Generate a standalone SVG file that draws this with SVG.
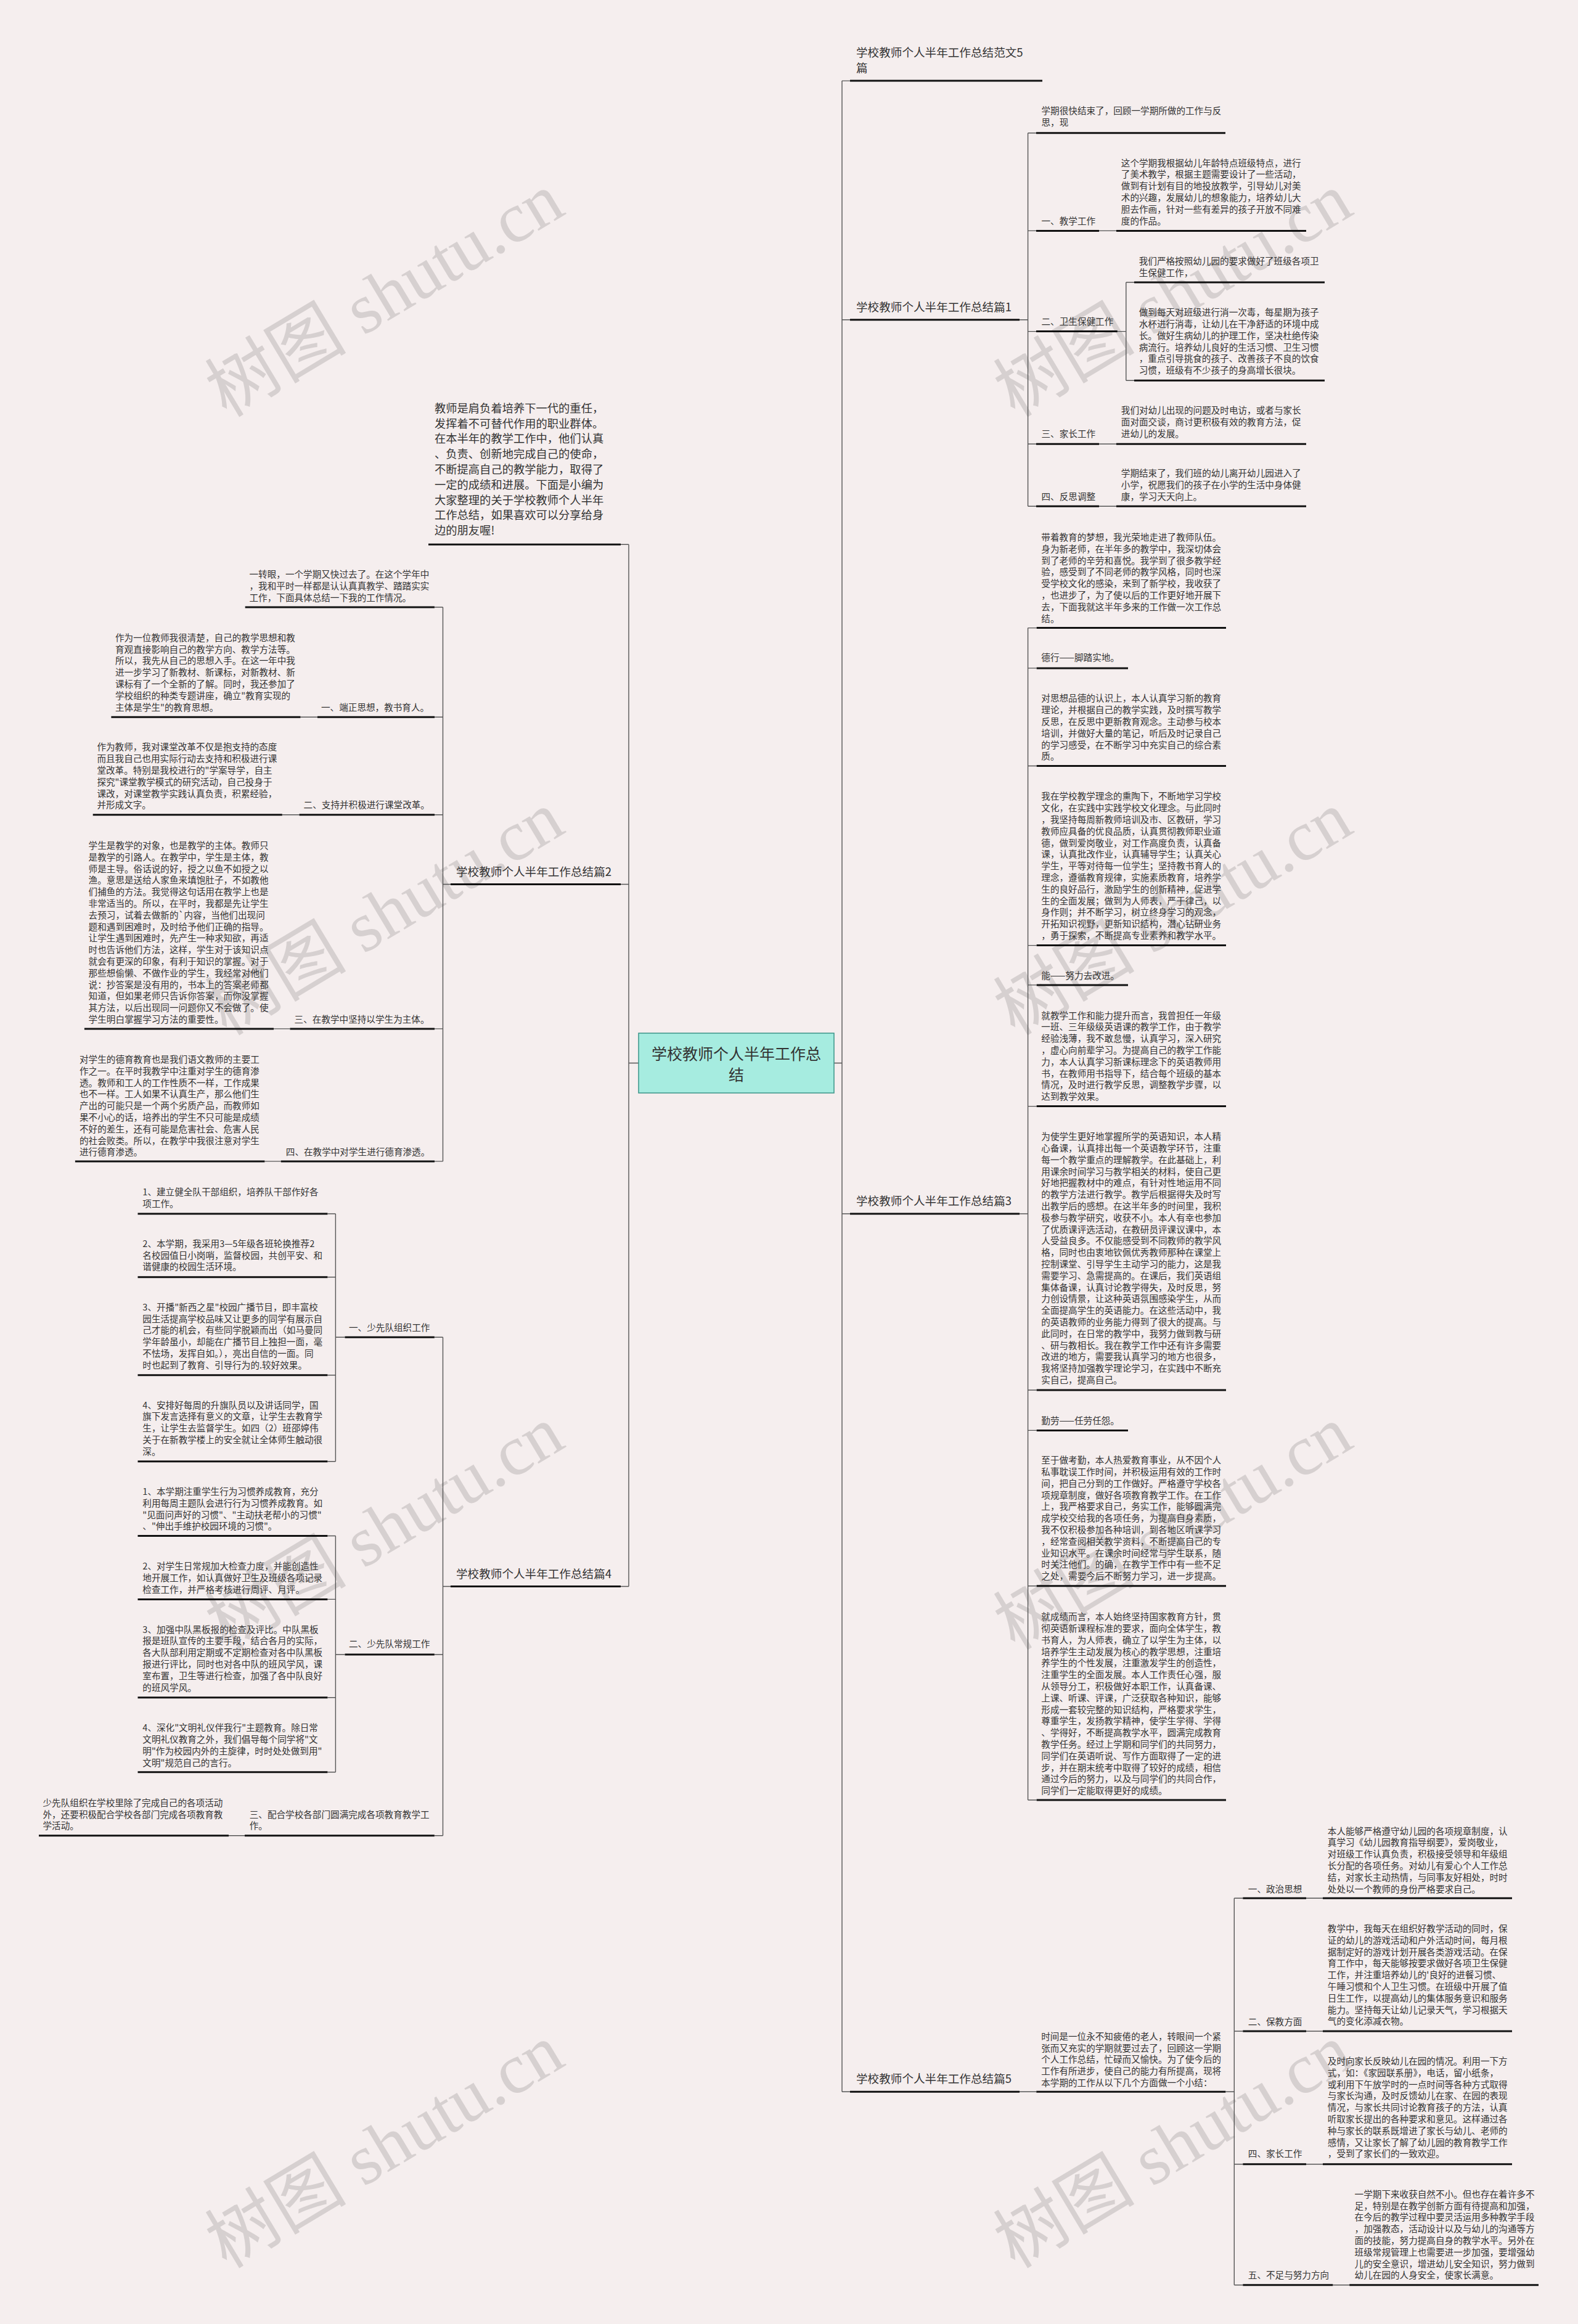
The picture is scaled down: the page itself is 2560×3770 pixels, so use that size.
<svg xmlns="http://www.w3.org/2000/svg" width="2560" height="3770" viewBox="0 0 2560 3770">
<style>
.t{font-family:"Noto Sans CJK SC","Liberation Sans",sans-serif;font-size:14.6px;fill:#333}
.m{font-family:"Noto Sans CJK SC","Liberation Sans",sans-serif;font-size:18.6px;fill:#333}
.i{font-family:"Noto Sans CJK SC","Liberation Sans",sans-serif;font-size:18.3px;fill:#333}
.ul{stroke:#111;stroke-width:3;fill:none}
.ln{stroke:#555;stroke-width:1.4;fill:none}
.wm{font-family:"Liberation Serif","Noto Sans CJK SC",serif;font-size:115px;fill:#8a8484;opacity:0.28}
</style>
<rect x="0" y="0" width="2560" height="3770" fill="#f5eeee"/>

<g id="watermarks">
<text class="wm" text-anchor="middle" transform="translate(644,512) rotate(-31)">树图 shutu.cn</text>
<text class="wm" text-anchor="middle" transform="translate(1923,512) rotate(-31)">树图 shutu.cn</text>
<text class="wm" text-anchor="middle" transform="translate(644,1515) rotate(-31)">树图 shutu.cn</text>
<text class="wm" text-anchor="middle" transform="translate(1923,1515) rotate(-31)">树图 shutu.cn</text>
<text class="wm" text-anchor="middle" transform="translate(644,2512) rotate(-31)">树图 shutu.cn</text>
<text class="wm" text-anchor="middle" transform="translate(1923,2512) rotate(-31)">树图 shutu.cn</text>
<text class="wm" text-anchor="middle" transform="translate(644,3515) rotate(-31)">树图 shutu.cn</text>
<text class="wm" text-anchor="middle" transform="translate(1923,3515) rotate(-31)">树图 shutu.cn</text>
</g>

<g id="connectors">
<path class="ln" d="M1366 131.1V3393.3M1353 1724.5H1366M1036 1724.5H1020M1020 883.3V2573.5"/>
<path class="ln" d="M1366 131.1H1379M1366 518.7H1379M1366 1969H1379M1366 3393.3H1379M1020 883.3H1007M1020 1434.5H1007M1020 2573.5H1007"/>
<path class="ln" d="M1654 518.7H1667.6M1667.6 215.7V821.2M1667.6 215.7H1681M1667.6 374.4H1681M1667.6 537.6H1681M1667.6 720.2H1681M1667.6 821.2H1681M1783 374.4H1811M1783 720.2H1811M1783 821.2H1811M1812.8 537.6H1826.8M1826.8 458V617.2M1826.8 458H1840M1826.8 617.2H1840"/>
<path class="ln" d="M1654 1969H1667.6M1667.6 1018.6V2920M1667.6 1018.6H1681.7M1667.6 1083.9H1681.7M1667.6 1242.5H1681.7M1667.6 1533.6H1681.7M1667.6 1597.9H1681.7M1667.6 1794.6H1681.7M1667.6 2255H1681.7M1667.6 2320.4H1681.7M1667.6 2572.7H1681.7M1667.6 2920H1681.7"/>
<path class="ln" d="M1654 3393.3H1681.3M1988.3 3393.3H2002.3M2002.3 3079.3V3706.7M2002.3 3079.3H2016.3M2002.3 3295H2016.3M2002.3 3510.7H2016.3M2002.3 3706.7H2016.3M2119 3079.3H2146M2119 3295H2146M2119 3510.7H2146M2162.3 3706.7H2189.2"/>
<path class="ln" d="M731 1434.5H718.5M718.5 985V1883.9M718.5 985H704.9M718.5 1163.3H705M718.5 1321.7H705M718.5 1668.9H705M718.5 1883.9H705M515 1163.3H487.5M485.5 1321.7H457.8M470.5 1668.9H444M455.8 1883.9H429.4"/>
<path class="ln" d="M731 2573.5H718.5M718.5 2169.3V2977.8M718.5 2169.3H704.8M718.5 2684H704.8M718.5 2977.8H704.8M559.5 2169.3H544.4M544.4 1969V2370.7M544.4 1969H531.4M544.4 2071.7H531.4M544.4 2230.7H531.4M544.4 2370.7H531.4M559.5 2684H544.4M544.4 2491.5V2874.8M544.4 2491.5H531.4M544.4 2594.4H531.4M544.4 2753.7H531.4M544.4 2874.8H531.4M397 2977.8H371"/>
</g>

<g id="center">
<rect x="1036" y="1676" width="317" height="97" fill="#a6ece0" stroke="#3a9488" stroke-width="1.5"/>
<text class="m" style="font-size:25px" text-anchor="middle" x="1194.5" y="1718.5">学校教师个人半年工作总</text>
<text class="m" style="font-size:25px" text-anchor="middle" x="1194.5" y="1752.5">结</text>
</g>

<!-- RIGHT: title 5 -->
<g id="n-title5">
<text class="m" x="1389" y="91.9"><tspan x="1389">学校教师个人半年工作总结范文5</tspan><tspan x="1389" dy="24.9">篇</tspan></text>
<path class="ul" d="M1379 131.1H1691"/>
</g>

<!-- Section 1 -->
<g id="n-p1">
<text class="m" x="1389" y="504.8">学校教师个人半年工作总结篇1</text>
<path class="ul" d="M1379 518.7H1654"/>
</g>
<g id="n-p1-a">
<text class="t" x="1689.5" y="184.9"><tspan x="1689.5">学期很快结束了，回顾一学期所做的工作与反</tspan><tspan x="1689.5" dy="18.9">思，现</tspan></text>
<path class="ul" d="M1681 215.7H1988"/>
</g>
<g id="n-p1-1">
<text class="t" x="1689.5" y="364">一、教学工作</text>
<path class="ul" d="M1681 374.4H1783"/>
</g>
<g id="n-p1-1t">
<text class="t" x="1818.8" y="269.5"><tspan x="1818.8">这个学期我根据幼儿年龄特点班级特点，进行</tspan><tspan x="1818.8" dy="18.9">了美术教学，根据主题需要设计了一些活动，</tspan><tspan x="1818.8" dy="18.9">做到有计划有目的地投放教学，引导幼儿对美</tspan><tspan x="1818.8" dy="18.9">术的兴趣，发展幼儿的想象能力，培养幼儿大</tspan><tspan x="1818.8" dy="18.9">胆去作画，针对一些有差异的孩子开放不同难</tspan><tspan x="1818.8" dy="18.9">度的作品。</tspan></text>
<path class="ul" d="M1811 374.4H2119"/>
</g>
<g id="n-p1-2">
<text class="t" x="1689.5" y="526.7">二、卫生保健工作</text>
<path class="ul" d="M1681 537.6H1812.8"/>
</g>
<g id="n-p1-2a">
<text class="t" x="1847.7" y="428.7"><tspan x="1847.7">我们严格按照幼儿园的要求做好了班级各项卫</tspan><tspan x="1847.7" dy="18.9">生保健工作，</tspan></text>
<path class="ul" d="M1840 458H2149"/>
</g>
<g id="n-p1-2b">
<text class="t" x="1847.7" y="511.8"><tspan x="1847.7">做到每天对班级进行消一次毒，每星期为孩子</tspan><tspan x="1847.7" dy="18.9">水杯进行消毒，让幼儿在干净舒适的环境中成</tspan><tspan x="1847.7" dy="18.9">长。做好生病幼儿的护理工作，坚决杜绝传染</tspan><tspan x="1847.7" dy="18.9">病流行。培养幼儿良好的生活习惯、卫生习惯</tspan><tspan x="1847.7" dy="18.9">，重点引导挑食的孩子、改善孩子不良的饮食</tspan><tspan x="1847.7" dy="18.9">习惯，班级有不少孩子的身高增长很块。</tspan></text>
<path class="ul" d="M1840 617.2H2149"/>
</g>
<g id="n-p1-3">
<text class="t" x="1689.5" y="708.8">三、家长工作</text>
<path class="ul" d="M1681 720.2H1783"/>
</g>
<g id="n-p1-3t">
<text class="t" x="1818.8" y="671"><tspan x="1818.8">我们对幼儿出现的问题及时电访，或者与家长</tspan><tspan x="1818.8" dy="18.9">面对面交谈，商讨更积极有效的教育方法，促</tspan><tspan x="1818.8" dy="18.9">进幼儿的发展。</tspan></text>
<path class="ul" d="M1811 720.2H2119"/>
</g>
<g id="n-p1-4">
<text class="t" x="1689.5" y="811">四、反思调整</text>
<path class="ul" d="M1681 821.2H1783"/>
</g>
<g id="n-p1-4t">
<text class="t" x="1818.8" y="773"><tspan x="1818.8">学期结束了，我们班的幼儿离开幼儿园进入了</tspan><tspan x="1818.8" dy="18.9">小学，祝愿我们的孩子在小学的生活中身体健</tspan><tspan x="1818.8" dy="18.9">康，学习天天向上。</tspan></text>
<path class="ul" d="M1811 821.2H2119"/>
</g>

<!-- Section 3 -->
<g id="n-p3">
<text class="m" x="1389" y="1955">学校教师个人半年工作总结篇3</text>
<path class="ul" d="M1379 1969H1654"/>
</g>
<g id="n-p3-a">
<text class="t" x="1689.3" y="876.9"><tspan x="1689.3">带着教育的梦想，我光荣地走进了教师队伍。</tspan><tspan x="1689.3" dy="18.8">身为新老师，在半年多的教学中，我深切体会</tspan><tspan x="1689.3" dy="18.8">到了老师的辛劳和喜悦。我学到了很多教学经</tspan><tspan x="1689.3" dy="18.8">验，感受到了不同老师的教学风格，同时也深</tspan><tspan x="1689.3" dy="18.8">受学校文化的感染，来到了新学校，我收获了</tspan><tspan x="1689.3" dy="18.8">，也进步了，为了使以后的工作更好地开展下</tspan><tspan x="1689.3" dy="18.8">去，下面我就这半年多来的工作做一次工作总</tspan><tspan x="1689.3" dy="18.8">结。</tspan></text>
<path class="ul" d="M1681.7 1018.6H1989"/>
</g>
<g id="n-p3-b">
<text class="t" x="1689.3" y="1072.3">德行——脚踏实地。</text>
<path class="ul" d="M1681.7 1083.9H1830"/>
</g>
<g id="n-p3-c">
<text class="t" x="1689.3" y="1138.4"><tspan x="1689.3">对思想品德的认识上，本人认真学习新的教育</tspan><tspan x="1689.3" dy="18.8">理论，并根据自己的教学实践，及时撰写教学</tspan><tspan x="1689.3" dy="18.8">反思，在反思中更新教育观念。主动参与校本</tspan><tspan x="1689.3" dy="18.8">培训，并做好大量的笔记，听后及时记录自己</tspan><tspan x="1689.3" dy="18.8">的学习感受，在不断学习中充实自己的综合素</tspan><tspan x="1689.3" dy="18.8">质。</tspan></text>
<path class="ul" d="M1681.7 1242.5H1989"/>
</g>
<g id="n-p3-d">
<text class="t" x="1689.3" y="1297.3"><tspan x="1689.3">我在学校教学理念的熏陶下，不断地学习学校</tspan><tspan x="1689.3" dy="18.8">文化，在实践中实践学校文化理念。与此同时</tspan><tspan x="1689.3" dy="18.8">，我坚持每周新教师培训及市、区教研，学习</tspan><tspan x="1689.3" dy="18.8">教师应具备的优良品质，认真贯彻教师职业道</tspan><tspan x="1689.3" dy="18.8">德，做到爱岗敬业，对工作高度负责，认真备</tspan><tspan x="1689.3" dy="18.8">课，认真批改作业，认真辅导学生；认真关心</tspan><tspan x="1689.3" dy="18.8">学生，平等对待每一位学生；坚持教书育人的</tspan><tspan x="1689.3" dy="18.8">理念，遵循教育规律，实施素质教育，培养学</tspan><tspan x="1689.3" dy="18.8">生的良好品行，激励学生的创新精神，促进学</tspan><tspan x="1689.3" dy="18.8">生的全面发展；做到为人师表，严于律己，以</tspan><tspan x="1689.3" dy="18.8">身作则；并不断学习，树立终身学习的观念，</tspan><tspan x="1689.3" dy="18.8">开拓知识视野，更新知识结构，潜心钻研业务</tspan><tspan x="1689.3" dy="18.8">，勇于探索，不断提高专业素养和教学水平。</tspan></text>
<path class="ul" d="M1681.7 1533.6H1989"/>
</g>
<g id="n-p3-e">
<text class="t" x="1689.3" y="1588.4">能——努力去改进。</text>
<path class="ul" d="M1681.7 1597.9H1830"/>
</g>
<g id="n-p3-f">
<text class="t" x="1689.3" y="1652.6"><tspan x="1689.3">就教学工作和能力提升而言，我曾担任一年级</tspan><tspan x="1689.3" dy="18.8">一班、三年级级英语课的教学工作，由于教学</tspan><tspan x="1689.3" dy="18.8">经验浅薄，我不敢怠慢，认真学习，深入研究</tspan><tspan x="1689.3" dy="18.8">，虚心向前辈学习。为提高自己的教学工作能</tspan><tspan x="1689.3" dy="18.8">力，本人认真学习新课标理念下的英语教师用</tspan><tspan x="1689.3" dy="18.8">书，在教师用书指导下，结合每个班级的基本</tspan><tspan x="1689.3" dy="18.8">情况，及时进行教学反思，调整教学步骤，以</tspan><tspan x="1689.3" dy="18.8">达到教学效果。</tspan></text>
<path class="ul" d="M1681.7 1794.6H1989"/>
</g>
<g id="n-p3-g">
<text class="t" x="1689.3" y="1849.1"><tspan x="1689.3">为使学生更好地掌握所学的英语知识，本人精</tspan><tspan x="1689.3" dy="18.8">心备课，认真排出每一个英语教学环节，注重</tspan><tspan x="1689.3" dy="18.8">每一个教学重点的理解教学。在此基础上，利</tspan><tspan x="1689.3" dy="18.8">用课余时间学习与教学相关的材料，使自己更</tspan><tspan x="1689.3" dy="18.8">好地把握教材中的难点，有针对性地运用不同</tspan><tspan x="1689.3" dy="18.8">的教学方法进行教学。教学后根据得失及时写</tspan><tspan x="1689.3" dy="18.8">出教学后的感想。在这半年多的时间里，我积</tspan><tspan x="1689.3" dy="18.8">极参与教学研究，收获不小。本人有幸也参加</tspan><tspan x="1689.3" dy="18.8">了优质课评选活动，在教研员评课议课中，本</tspan><tspan x="1689.3" dy="18.8">人受益良多。不仅能感受到不同教师的教学风</tspan><tspan x="1689.3" dy="18.8">格，同时也由衷地钦佩优秀教师那种在课堂上</tspan><tspan x="1689.3" dy="18.8">控制课堂、引导学生主动学习的能力，这是我</tspan><tspan x="1689.3" dy="18.8">需要学习、急需提高的。在课后，我们英语组</tspan><tspan x="1689.3" dy="18.8">集体备课，认真讨论教学得失，及时反思，努</tspan><tspan x="1689.3" dy="18.8">力创设情景，让这种英语氛围感染学生，从而</tspan><tspan x="1689.3" dy="18.8">全面提高学生的英语能力。在这些活动中，我</tspan><tspan x="1689.3" dy="18.8">的英语教师的业务能力得到了很大的提高。与</tspan><tspan x="1689.3" dy="18.8">此同时，在日常的教学中，我努力做到教与研</tspan><tspan x="1689.3" dy="18.8">、研与教相长。我在教学工作中还有许多需要</tspan><tspan x="1689.3" dy="18.8">改进的地方，需要我认真学习的地方也很多，</tspan><tspan x="1689.3" dy="18.8">我将坚持加强教学理论学习，在实践中不断充</tspan><tspan x="1689.3" dy="18.8">实自己，提高自己。</tspan></text>
<path class="ul" d="M1681.7 2255H1989"/>
</g>
<g id="n-p3-h">
<text class="t" x="1689.3" y="2309.8">勤劳——任劳任怨。</text>
<path class="ul" d="M1681.7 2320.4H1830"/>
</g>
<g id="n-p3-i">
<text class="t" x="1689.3" y="2374.1"><tspan x="1689.3">至于做考勤，本人热爱教育事业，从不因个人</tspan><tspan x="1689.3" dy="18.8">私事耽误工作时间，并积极运用有效的工作时</tspan><tspan x="1689.3" dy="18.8">间，把自己分到的工作做好。严格遵守学校各</tspan><tspan x="1689.3" dy="18.8">项规章制度，做好各项教育教学工作。在工作</tspan><tspan x="1689.3" dy="18.8">上，我严格要求自己，务实工作，能够圆满完</tspan><tspan x="1689.3" dy="18.8">成学校交给我的各项任务，为提高自身素质，</tspan><tspan x="1689.3" dy="18.8">我不仅积极参加各种培训，到各地区听课学习</tspan><tspan x="1689.3" dy="18.8">，经常查阅相关教学资料，不断提高自己的专</tspan><tspan x="1689.3" dy="18.8">业知识水平。在课余时间经常与学生联系，随</tspan><tspan x="1689.3" dy="18.8">时关注他们。的确，在教学工作中有一些不足</tspan><tspan x="1689.3" dy="18.8">之处，需要今后不断努力学习，进一步提高。</tspan></text>
<path class="ul" d="M1681.7 2572.7H1989"/>
</g>
<g id="n-p3-j">
<text class="t" x="1689.3" y="2628.2"><tspan x="1689.3">就成绩而言，本人始终坚持国家教育方针，贯</tspan><tspan x="1689.3" dy="18.8">彻英语新课程标准的要求，面向全体学生，教</tspan><tspan x="1689.3" dy="18.8">书育人，为人师表，确立了以学生为主体，以</tspan><tspan x="1689.3" dy="18.8">培养学生主动发展为核心的教学思想，注重培</tspan><tspan x="1689.3" dy="18.8">养学生的个性发展，注重激发学生的创造性，</tspan><tspan x="1689.3" dy="18.8">注重学生的全面发展。本人工作责任心强，服</tspan><tspan x="1689.3" dy="18.8">从领导分工，积极做好本职工作，认真备课、</tspan><tspan x="1689.3" dy="18.8">上课、听课、评课，广泛获取各种知识，能够</tspan><tspan x="1689.3" dy="18.8">形成一套较完整的知识结构，严格要求学生，</tspan><tspan x="1689.3" dy="18.8">尊重学生，发扬教学精神，使学生学得、学得</tspan><tspan x="1689.3" dy="18.8">、学得好，不断提高教学水平，圆满完成教育</tspan><tspan x="1689.3" dy="18.8">教学任务。经过上学期和同学们的共同努力，</tspan><tspan x="1689.3" dy="18.8">同学们在英语听说、写作方面取得了一定的进</tspan><tspan x="1689.3" dy="18.8">步，并在期末统考中取得了较好的成绩，相信</tspan><tspan x="1689.3" dy="18.8">通过今后的努力，以及与同学们的共同合作，</tspan><tspan x="1689.3" dy="18.8">同学们一定能取得更好的成绩。</tspan></text>
<path class="ul" d="M1681.7 2920H1989"/>
</g>

<!-- Section 5 -->
<g id="n-p5">
<text class="m" x="1389" y="3379.4">学校教师个人半年工作总结篇5</text>
<path class="ul" d="M1379 3393.3H1654"/>
</g>
<g id="n-p5-a">
<text class="t" x="1689.2" y="3308.8"><tspan x="1689.2">时间是一位永不知疲倦的老人，转眼间一个紧</tspan><tspan x="1689.2" dy="18.7">张而又充实的学期就要过去了，回顾这一学期</tspan><tspan x="1689.2" dy="18.7">个人工作总结，忙碌而又愉快。为了使今后的</tspan><tspan x="1689.2" dy="18.7">工作有所进步，使自己的能力有所提高，现将</tspan><tspan x="1689.2" dy="18.7">本学期的工作从以下几个方面做一个小结：</tspan></text>
<path class="ul" d="M1681.3 3393.3H1988.3"/>
</g>
<g id="n-p5-1">
<text class="t" x="2024.8" y="3069.5">一、政治思想</text>
<path class="ul" d="M2016.3 3079.3H2119"/>
</g>
<g id="n-p5-1t">
<text class="t" x="2153.8" y="2975.5"><tspan x="2153.8">本人能够严格遵守幼儿园的各项规章制度，认</tspan><tspan x="2153.8" dy="18.8">真学习《幼儿园教育指导纲要》，爱岗敬业，</tspan><tspan x="2153.8" dy="18.8">对班级工作认真负责，积极接受领导和年级组</tspan><tspan x="2153.8" dy="18.8">长分配的各项任务。对幼儿有爱心个人工作总</tspan><tspan x="2153.8" dy="18.8">结，对家长主动热情，与同事友好相处，时时</tspan><tspan x="2153.8" dy="18.8">处处以一个教师的身份严格要求自己。</tspan></text>
<path class="ul" d="M2146 3079.3H2453"/>
</g>
<g id="n-p5-2">
<text class="t" x="2024.8" y="3284.6">二、保教方面</text>
<path class="ul" d="M2016.3 3295H2119"/>
</g>
<g id="n-p5-2t">
<text class="t" x="2153.8" y="3134"><tspan x="2153.8">教学中，我每天在组织好教学活动的同时，保</tspan><tspan x="2153.8" dy="18.8">证的幼儿的游戏活动和户外活动时间，每月根</tspan><tspan x="2153.8" dy="18.8">据制定好的游戏计划开展各类游戏活动。在保</tspan><tspan x="2153.8" dy="18.8">育工作中，每天能够按要求做好各项卫生保健</tspan><tspan x="2153.8" dy="18.8">工作，并注重培养幼儿的'良好的进餐习惯、</tspan><tspan x="2153.8" dy="18.8">午睡习惯和个人卫生习惯。在班级中开展了值</tspan><tspan x="2153.8" dy="18.8">日生工作，以提高幼儿的集体服务意识和服务</tspan><tspan x="2153.8" dy="18.8">能力。坚持每天让幼儿记录天气，学习根据天</tspan><tspan x="2153.8" dy="18.8">气的变化添减衣物。</tspan></text>
<path class="ul" d="M2146 3295H2453"/>
</g>
<g id="n-p5-4">
<text class="t" x="2024.8" y="3499.4">四、家长工作</text>
<path class="ul" d="M2016.3 3510.7H2119"/>
</g>
<g id="n-p5-4t">
<text class="t" x="2153.8" y="3349"><tspan x="2153.8">及时向家长反映幼儿在园的情况。利用一下方</tspan><tspan x="2153.8" dy="18.8">式，如：《家园联系册》，电话，留小纸条，</tspan><tspan x="2153.8" dy="18.8">或利用下午放学时的一点时间等各种方式取得</tspan><tspan x="2153.8" dy="18.8">与家长沟通，及时反馈幼儿在家、在园的表现</tspan><tspan x="2153.8" dy="18.8">情况，与家长共同讨论教育孩子的方法，认真</tspan><tspan x="2153.8" dy="18.8">听取家长提出的各种要求和意见。这样通过各</tspan><tspan x="2153.8" dy="18.8">种与家长的联系既增进了家长与幼儿、老师的</tspan><tspan x="2153.8" dy="18.8">感情，又让家长了解了幼儿园的教育教学工作</tspan><tspan x="2153.8" dy="18.8">，受到了家长们的一致欢迎。</tspan></text>
<path class="ul" d="M2146 3510.7H2453"/>
</g>
<g id="n-p5-5">
<text class="t" x="2024.8" y="3696.4">五、不足与努力方向</text>
<path class="ul" d="M2016.3 3706.7H2162.3"/>
</g>
<g id="n-p5-5t">
<text class="t" x="2197.6" y="3564.8"><tspan x="2197.6">一学期下来收获自然不小。但也存在着许多不</tspan><tspan x="2197.6" dy="18.8">足，特别是在教学创新方面有待提高和加强，</tspan><tspan x="2197.6" dy="18.8">在今后的教学过程中要灵活运用多种教学手段</tspan><tspan x="2197.6" dy="18.8">，加强教态，活动设计以及与幼儿的沟通等方</tspan><tspan x="2197.6" dy="18.8">面的技能，努力提高自身的教学水平。另外在</tspan><tspan x="2197.6" dy="18.8">班级常规管理上也需要进一步加强，要增强幼</tspan><tspan x="2197.6" dy="18.8">儿的安全意识，增进幼儿安全知识，努力做到</tspan><tspan x="2197.6" dy="18.8">幼儿在园的人身安全，使家长满意。</tspan></text>
<path class="ul" d="M2189.2 3706.7H2496"/>
</g>

<!-- LEFT: intro -->
<g id="n-intro">
<text class="i" x="705" y="668.7"><tspan x="705">教师是肩负着培养下一代的重任，</tspan><tspan x="705" dy="24.8">发挥着不可替代作用的职业群体。</tspan><tspan x="705" dy="24.8">在本半年的教学工作中，他们认真</tspan><tspan x="705" dy="24.8">、负责、创新地完成自己的使命，</tspan><tspan x="705" dy="24.8">不断提高自己的教学能力，取得了</tspan><tspan x="705" dy="24.8">一定的成绩和进展。下面是小编为</tspan><tspan x="705" dy="24.8">大家整理的关于学校教师个人半年</tspan><tspan x="705" dy="24.8">工作总结，如果喜欢可以分享给身</tspan><tspan x="705" dy="24.8">边的朋友喔!</tspan></text>
<path class="ul" d="M695 883.3H1007"/>
</g>

<!-- Section 2 -->
<g id="n-p2">
<text class="m" x="740" y="1420.5">学校教师个人半年工作总结篇2</text>
<path class="ul" d="M731 1434.5H1007"/>
</g>
<g id="n-p2-a">
<text class="t" x="404.5" y="937.2"><tspan x="404.5">一转眼，一个学期又快过去了。在这个学年中</tspan><tspan x="404.5" dy="18.8">，我和平时一样都是认认真真教学、踏踏实实</tspan><tspan x="404.5" dy="18.8">工作，下面具体总结一下我的工作情况。</tspan></text>
<path class="ul" d="M397.7 985H704.9"/>
</g>
<g id="n-p2-1">
<text class="t" x="521" y="1152.8">一、端正思想，教书育人。</text>
<path class="ul" d="M515 1163.3H705"/>
</g>
<g id="n-p2-1t">
<text class="t" x="187" y="1039.8"><tspan x="187">作为一位教师我很清楚，自己的教学思想和教</tspan><tspan x="187" dy="18.8">育观直接影响自己的教学方向、教学方法等。</tspan><tspan x="187" dy="18.8">所以，我先从自己的思想入手。在这一年中我</tspan><tspan x="187" dy="18.8">进一步学习了新教材、新课标，对新教材、新</tspan><tspan x="187" dy="18.8">课标有了一个全新的了解。同时，我还参加了</tspan><tspan x="187" dy="18.8">学校组织的种类专题讲座，确立"教育实现的</tspan><tspan x="187" dy="18.8">主体是学生"的教育思想。</tspan></text>
<path class="ul" d="M180.4 1163.3H487.5"/>
</g>
<g id="n-p2-2">
<text class="t" x="492.6" y="1311.4">二、支持并积极进行课堂改革。</text>
<path class="ul" d="M485.5 1321.7H705"/>
</g>
<g id="n-p2-2t">
<text class="t" x="157.4" y="1217.4"><tspan x="157.4">作为教师，我对课堂改革不仅是抱支持的态度</tspan><tspan x="157.4" dy="18.8">而且我自己也用实际行动去支持和积极进行课</tspan><tspan x="157.4" dy="18.8">堂改革。特别是我校进行的"学案导学，自主</tspan><tspan x="157.4" dy="18.8">探究"课堂教学模式的研究活动，自己投身于</tspan><tspan x="157.4" dy="18.8">课改，对课堂教学实践认真负责，积累经验，</tspan><tspan x="157.4" dy="18.8">并形成文字。</tspan></text>
<path class="ul" d="M150.7 1321.7H457.8"/>
</g>
<g id="n-p2-3">
<text class="t" x="477.6" y="1659">三、在教学中坚持以学生为主体。</text>
<path class="ul" d="M470.5 1668.9H705"/>
</g>
<g id="n-p2-3t">
<text class="t" x="143.6" y="1377"><tspan x="143.6">学生是教学的对象，也是教学的主体。教师只</tspan><tspan x="143.6" dy="18.8">是教学的引路人。在教学中，学生是主体，教</tspan><tspan x="143.6" dy="18.8">师是主导。俗话说的好，授之以鱼不如授之以</tspan><tspan x="143.6" dy="18.8">渔。意思是送给人家鱼来填饱肚子，不如教他</tspan><tspan x="143.6" dy="18.8">们捕鱼的方法。我觉得这句话用在教学上也是</tspan><tspan x="143.6" dy="18.8">非常适当的。所以，在平时，我都是先让学生</tspan><tspan x="143.6" dy="18.8">去预习，试着去做新的`内容，当他们出现问</tspan><tspan x="143.6" dy="18.8">题和遇到困难时，及时给予他们正确的指导。</tspan><tspan x="143.6" dy="18.8">让学生遇到困难时，先产生一种求知欲，再适</tspan><tspan x="143.6" dy="18.8">时也告诉他们方法，这样，学生对于该知识点</tspan><tspan x="143.6" dy="18.8">就会有更深的印象，有利于知识的掌握。对于</tspan><tspan x="143.6" dy="18.8">那些想偷懒、不做作业的学生，我经常对他们</tspan><tspan x="143.6" dy="18.8">说：抄答案是没有用的，书本上的答案老师都</tspan><tspan x="143.6" dy="18.8">知道，但如果老师只告诉你答案，而你没掌握</tspan><tspan x="143.6" dy="18.8">其方法，以后出现同一问题你又不会做了。使</tspan><tspan x="143.6" dy="18.8">学生明白掌握学习方法的重要性。</tspan></text>
<path class="ul" d="M136.9 1668.9H444"/>
</g>
<g id="n-p2-4">
<text class="t" x="463.8" y="1874.4">四、在教学中对学生进行德育渗透。</text>
<path class="ul" d="M455.8 1883.9H705"/>
</g>
<g id="n-p2-4t">
<text class="t" x="129" y="1724"><tspan x="129">对学生的德育教育也是我们语文教师的主要工</tspan><tspan x="129" dy="18.8">作之一。在平时我教学中注重对学生的德育渗</tspan><tspan x="129" dy="18.8">透。教师和工人的工作性质不一样，工作成果</tspan><tspan x="129" dy="18.8">也不一样。工人如果不认真生产，那么他们生</tspan><tspan x="129" dy="18.8">产出的可能只是一个两个劣质产品，而教师如</tspan><tspan x="129" dy="18.8">果不小心的话，培养出的学生不只可能是成绩</tspan><tspan x="129" dy="18.8">不好的差生，还有可能是危害社会、危害人民</tspan><tspan x="129" dy="18.8">的社会败类。所以，在教学中我很注意对学生</tspan><tspan x="129" dy="18.8">进行德育渗透。</tspan></text>
<path class="ul" d="M121.9 1883.9H429.4"/>
</g>

<!-- Section 4 -->
<g id="n-p4">
<text class="m" x="740" y="2559.5">学校教师个人半年工作总结篇4</text>
<path class="ul" d="M731 2573.5H1007"/>
</g>
<g id="n-p4-1">
<text class="t" x="566" y="2158.8">一、少先队组织工作</text>
<path class="ul" d="M559.5 2169.3H704.8"/>
</g>
<g id="n-p4-1a">
<text class="t" x="231.3" y="1938.8"><tspan x="231.3">1、建立健全队干部组织，培养队干部作好各</tspan><tspan x="231.3" dy="18.8">项工作。</tspan></text>
<path class="ul" d="M223.5 1969H531.4"/>
</g>
<g id="n-p4-1b">
<text class="t" x="231.3" y="2022.8"><tspan x="231.3">2、本学期，我采用3—5年级各班轮换推荐2</tspan><tspan x="231.3" dy="18.8">名校园值日小岗哨，监督校园，共创平安、和</tspan><tspan x="231.3" dy="18.8">谐健康的校园生活环境。</tspan></text>
<path class="ul" d="M223.5 2071.7H531.4"/>
</g>
<g id="n-p4-1c">
<text class="t" x="231.3" y="2125.8"><tspan x="231.3">3、开播"新西之星"校园广播节目，即丰富校</tspan><tspan x="231.3" dy="18.8">园生活提高学校品味又让更多的同学有展示自</tspan><tspan x="231.3" dy="18.8">己才能的机会，有些同学脱颖而出（如马曼同</tspan><tspan x="231.3" dy="18.8">学年龄虽小，却能在广播节目上独担一面，毫</tspan><tspan x="231.3" dy="18.8">不怯场，发挥自如。），亮出自信的一面。同</tspan><tspan x="231.3" dy="18.8">时也起到了教育、引导行为的.较好效果。</tspan></text>
<path class="ul" d="M223.5 2230.7H531.4"/>
</g>
<g id="n-p4-1d">
<text class="t" x="231.3" y="2284.6"><tspan x="231.3">4、安排好每周的升旗队员以及讲话同学，国</tspan><tspan x="231.3" dy="18.8">旗下发言选择有意义的文章，让学生去教育学</tspan><tspan x="231.3" dy="18.8">生，让学生去监督学生。如四（2）班邵婷伟</tspan><tspan x="231.3" dy="18.8">关于在新教学楼上的安全就让全体师生触动很</tspan><tspan x="231.3" dy="18.8">深。</tspan></text>
<path class="ul" d="M223.5 2370.7H531.4"/>
</g>
<g id="n-p4-2">
<text class="t" x="566" y="2672.2">二、少先队常规工作</text>
<path class="ul" d="M559.5 2684H704.8"/>
</g>
<g id="n-p4-2a">
<text class="t" x="231.3" y="2425"><tspan x="231.3">1、本学期注重学生行为习惯养成教育，充分</tspan><tspan x="231.3" dy="18.8">利用每周主题队会进行行为习惯养成教育。如</tspan><tspan x="231.3" dy="18.8">"见面问声好的习惯"、"主动扶老帮小的习惯"</tspan><tspan x="231.3" dy="18.8">、"伸出手维护校园环境的习惯"。</tspan></text>
<path class="ul" d="M223.5 2491.5H531.4"/>
</g>
<g id="n-p4-2b">
<text class="t" x="231.3" y="2546.4"><tspan x="231.3">2、对学生日常规加大检查力度，并能创造性</tspan><tspan x="231.3" dy="18.8">地开展工作，如认真做好卫生及班级各项记录</tspan><tspan x="231.3" dy="18.8">检查工作，并严格考核进行周评、月评。</tspan></text>
<path class="ul" d="M223.5 2594.4H531.4"/>
</g>
<g id="n-p4-2c">
<text class="t" x="231.3" y="2648.5"><tspan x="231.3">3、加强中队黑板报的检查及评比。中队黑板</tspan><tspan x="231.3" dy="18.8">报是班队宣传的主要手段，结合各月的实际，</tspan><tspan x="231.3" dy="18.8">各大队部利用定期或不定期检查对各中队黑板</tspan><tspan x="231.3" dy="18.8">报进行评比，同时也对各中队的班风学风，课</tspan><tspan x="231.3" dy="18.8">室布置，卫生等进行检查，加强了各中队良好</tspan><tspan x="231.3" dy="18.8">的班风学风。</tspan></text>
<path class="ul" d="M223.5 2753.7H531.4"/>
</g>
<g id="n-p4-2d">
<text class="t" x="231.3" y="2808.4"><tspan x="231.3">4、深化"文明礼仪伴我行"主题教育。除日常</tspan><tspan x="231.3" dy="18.8">文明礼仪教育之外，我们倡导每个同学将"文</tspan><tspan x="231.3" dy="18.8">明"作为校园内外的主旋律，时时处处做到用"</tspan><tspan x="231.3" dy="18.8">文明"规范自己的言行。</tspan></text>
<path class="ul" d="M223.5 2874.8H531.4"/>
</g>
<g id="n-p4-3">
<text class="t" x="404.7" y="2948.8"><tspan x="404.7">三、配合学校各部门圆满完成各项教育教学工</tspan><tspan x="404.7" dy="18.6">作。</tspan></text>
<path class="ul" d="M397 2977.8H704.8"/>
</g>
<g id="n-p4-3t">
<text class="t" x="69.5" y="2929.8"><tspan x="69.5">少先队组织在学校里除了完成自己的各项活动</tspan><tspan x="69.5" dy="18.8">外，还要积极配合学校各部门完成各项教育教</tspan><tspan x="69.5" dy="18.8">学活动。</tspan></text>
<path class="ul" d="M63 2977.8H371"/>
</g>
</svg>
